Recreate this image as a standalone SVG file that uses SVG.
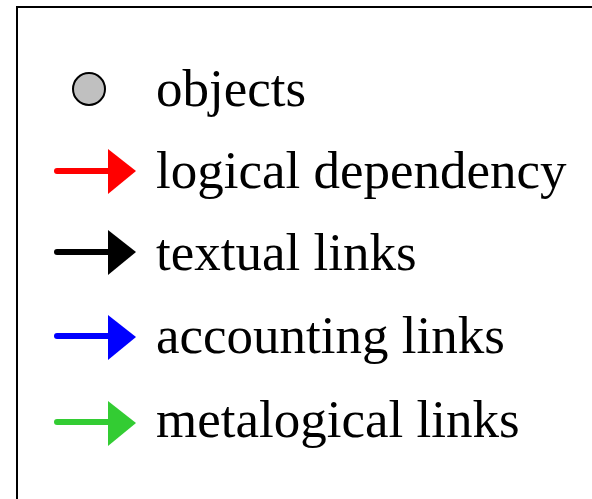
<svg xmlns="http://www.w3.org/2000/svg" width="592" height="499" viewBox="0 0 592 499">
<style>
.lbl{font-family:"Liberation Serif","Times New Roman",serif;font-size:53px;fill:#000}
.shaft{stroke-width:6;stroke-linecap:round;fill:none}
</style>
<rect x="0" y="0" width="592" height="499" fill="#fff"/>
<rect id="frame" x="17" y="7" width="600" height="520" fill="none" stroke="#000" stroke-width="2"/>
<g id="objects">
<circle cx="89" cy="89" r="16" fill="#c0c0c0" stroke="#000" stroke-width="2"/>
<text class="lbl" x="156" y="106">objects</text>
</g>
<g id="connectors">
<g id="logical-arrow"><line class="shaft" x1="57" y1="171" x2="110" y2="171" stroke="#f00"/><polygon points="108,149 136,171 108,194" fill="#f00"/></g>
<g id="textual-arrow"><line class="shaft" x1="57" y1="252" x2="110" y2="252" stroke="#000"/><polygon points="108,230 136,252 108,275" fill="#000"/></g>
<g id="accounting-arrow"><line class="shaft" x1="57" y1="336" x2="110" y2="336" stroke="#00f"/><polygon points="108,315 136,337 108,360" fill="#00f"/></g>
<g id="metalogical-arrow"><line class="shaft" x1="57" y1="422" x2="110" y2="422" stroke="#33cc33"/><polygon points="108,401 136,423 108,446" fill="#33cc33"/></g>
</g>
<g id="labels">
<text class="lbl" x="156" y="188">logical dependency</text>
<text class="lbl" x="156" y="270">textual links</text>
<text class="lbl" x="156" y="353">accounting links</text>
<text class="lbl" x="156" y="437">metalogical links</text>
</g>
</svg>
